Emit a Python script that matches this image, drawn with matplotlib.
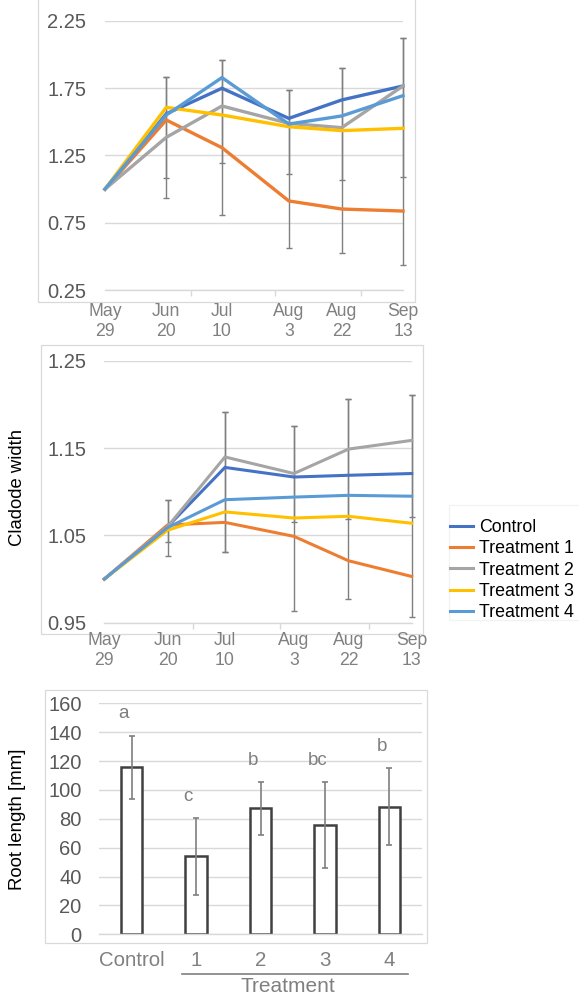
import numpy as np
import matplotlib
matplotlib.use('Agg')
import matplotlib.pyplot as plt
import matplotlib.dates as mdates
from matplotlib.patches import Rectangle
from matplotlib.transforms import blended_transform_factory

plt.rcParams['font.family'] = ['Liberation Sans', 'DejaVu Sans']

# sampling dates and the month ticks of the date axis
dates = np.array(['2019-05-29', '2019-06-20', '2019-07-10',
                  '2019-08-03', '2019-08-22', '2019-09-13'], dtype='datetime64[D]')
date_labels = ['May\n29', 'Jun\n20', 'Jul\n10', 'Aug\n3', 'Aug\n22', 'Sep\n13']
month_ticks = np.array(['2019-05-29', '2019-06-29', '2019-07-29', '2019-08-29'],
                       dtype='datetime64[D]')

series_names = ['Control', 'Treatment 1', 'Treatment 2', 'Treatment 3', 'Treatment 4']
series_colors = ['#4472C4', '#ED7D31', '#A5A5A5', '#FFC000', '#5B9BD5']

# relative cladode length
length_control = [1.0, 1.560, 1.750, 1.526, 1.663, 1.767]
length_t1 = [1.0, 1.514, 1.308, 0.912, 0.852, 0.837]
length_t2 = [1.0, 1.385, 1.618, 1.489, 1.457, 1.767]
length_t3 = [1.0, 1.608, 1.551, 1.464, 1.435, 1.452]
length_t4 = [1.0, 1.551, 1.829, 1.484, 1.544, 1.695]
# error bars (Jun 20 .. Sep 13)
length_err_hi = [1.831, 1.960, 1.737, 1.903, 2.121]
length_err_lo_a = [0.932, 0.808, 0.560, 0.523, 0.436]
length_err_lo_b = [1.085, 1.192, 1.110, 1.068, 1.088]

# relative cladode width
width_control = [1.0, 1.060, 1.128, 1.117, 1.119, 1.121]
width_t1 = [1.0, 1.062, 1.065, 1.049, 1.021, 1.003]
width_t2 = [1.0, 1.060, 1.140, 1.121, 1.149, 1.159]
width_t3 = [1.0, 1.056, 1.077, 1.070, 1.072, 1.064]
width_t4 = [1.0, 1.059, 1.091, 1.094, 1.096, 1.095]
width_err_hi = [1.091, 1.192, 1.176, 1.206, 1.211]
width_err_lo_a = [1.026, 1.031, 0.963, 0.977, 0.956]
width_err_lo_b = [1.043, 1.031, 1.066, 1.069, 1.071]

# root length
root_groups = ['Control', '1', '2', '3', '4']
root_mean = [115.8, 54.1, 87.3, 75.5, 88.4]
root_err = [21.8, 26.6, 18.4, 29.7, 26.8]
root_letters = ['a', 'c', 'b', 'bc', 'b']

W, H = 579, 996
GRID = '#D9D9D9'
TICK_Y = '#595959'
TICK_X = '#808080'
ERR = '#7F7F7F'

fig = plt.figure(figsize=(W / 100, H / 100), dpi=100)


def px_axes(x0, y0, x1, y1):
    ax = fig.add_axes([x0 / W, 1 - y1 / H, (x1 - x0) / W, (y1 - y0) / H])
    ax.set_facecolor('none')
    return ax


def px_frame(x0, y0, x1, y1, color='#D9D9D9'):
    r = Rectangle((x0 / W, 1 - y1 / H), (x1 - x0) / W, (y1 - y0) / H,
                  transform=fig.transFigure, fill=False, edgecolor=color,
                  linewidth=0.9, zorder=-5)
    fig.add_artist(r)


def style_axes(ax):
    for s in ['top', 'right', 'left']:
        ax.spines[s].set_visible(False)
    ax.spines['bottom'].set_color(GRID)
    ax.spines['bottom'].set_linewidth(1.0)
    ax.yaxis.grid(True, color=GRID, linewidth=1.0)
    ax.set_axisbelow(True)


def unclip(container):
    for child in container.get_children():
        child.set_clip_on(False)


def line_panel(ax, series, err_lo_a, err_lo_b, err_hi, ylim, yticks, fmt,
               lw, xpad, ypad):
    x = mdates.date2num(dates)
    style_axes(ax)
    for lo in (err_lo_a, err_lo_b):
        lo = np.array(lo)
        hi = np.array(err_hi)
        eb = ax.errorbar(x[1:], (lo + hi) / 2, yerr=(hi - lo) / 2, fmt='none',
                         ecolor=ERR, elinewidth=1.0, capsize=2.3, capthick=1.0,
                         zorder=2)
        unclip(eb)
    lines = []
    for vals, name, col in zip(series, series_names, series_colors):
        ln, = ax.plot(x, vals, color=col, linewidth=lw, label=name,
                      solid_joinstyle='miter', clip_on=False, zorder=3)
        lines.append(ln)
    ax.set_xlim(x[0], x[-1])
    ax.set_ylim(*ylim)
    ax.set_yticks(yticks)
    ax.set_yticklabels([fmt.format(v) for v in yticks])
    ax.set_xticks(x)
    ax.set_xticklabels(date_labels)
    ax.set_xticks(mdates.date2num(month_ticks), minor=True)
    ax.tick_params(axis='y', length=0, pad=ypad, labelsize=14.5,
                   labelcolor=TICK_Y)
    ax.tick_params(axis='x', which='major', length=0, pad=xpad,
                   labelsize=12.7, labelcolor=TICK_X)
    ax.tick_params(axis='x', which='minor', length=4, width=1.0, color=GRID,
                   direction='out')
    return lines


# chart area borders
px_frame(37.5, -3, 415, 302)
px_frame(40.7, 344.7, 423.3, 634)
px_frame(45, 690, 426.7, 942.7)
px_frame(449, 505, 582, 620, color='#F2F2F2')

# cladode length
ax1 = px_axes(105, 21, 403, 290)
line_panel(ax1, [length_control, length_t1, length_t2, length_t3, length_t4],
           length_err_lo_a, length_err_lo_b, length_err_hi,
           (0.25, 2.25), [0.25, 0.75, 1.25, 1.75, 2.25], '{:.2f}',
           2.4, 9.5, 13.5)

# cladode width
ax2 = px_axes(104.3, 361, 411.7, 622.7)
lines = line_panel(ax2, [width_control, width_t1, width_t2, width_t3, width_t4],
                   width_err_lo_a, width_err_lo_b, width_err_hi,
                   (0.95, 1.25), [0.95, 1.05, 1.15, 1.25], '{:.2f}',
                   2.2, 6.8, 12.7)
fig.text(18 / W, 1 - 488 / H, 'Cladode width', rotation=90, ha='center',
         va='center', fontsize=13.3, color='black')

fig.legend(lines, series_names, loc='upper left',
           bbox_to_anchor=(450 / W, 1 - 519 / H), frameon=False,
           borderpad=0, borderaxespad=0, handlelength=1.3,
           handletextpad=0.35, labelspacing=0.24, fontsize=12.8)

# root length bars
ax3 = px_axes(99.3, 703.3, 421.7, 934.3)
style_axes(ax3)
xb = np.arange(len(root_groups))
ax3.bar(xb, root_mean, width=0.33, color='white', edgecolor='#404040',
        linewidth=1.8, zorder=2)
ax3.errorbar(xb, root_mean, yerr=root_err, fmt='none', ecolor=ERR,
             elinewidth=1.2, capsize=2.5, capthick=1.2, zorder=3)
for i, (m, e, lt) in enumerate(zip(root_mean, root_err, root_letters)):
    ax3.text(i - 0.12, m + e + 15, lt, ha='center', va='center',
             fontsize=13.5, color=ERR)
ax3.spines['bottom'].set_zorder(4)
ax3.set_xlim(-0.5, len(root_groups) - 0.5)
ax3.set_ylim(0, 160)
ax3.set_yticks(np.arange(0, 161, 20))
ax3.set_xticks(xb)
ax3.set_xticklabels(root_groups)
ax3.tick_params(axis='y', length=0, pad=12.7, labelsize=14.5, labelcolor=TICK_Y)
ax3.tick_params(axis='x', length=0, pad=12, labelsize=14.7, labelcolor=TICK_X)

tr = blended_transform_factory(ax3.transData, ax3.transAxes)
ax3.plot([0.79, 4.29], [-0.172, -0.172], transform=tr, color=ERR,
         linewidth=1.2, clip_on=False)
ax3.text(2.42, -0.224, 'Treatment', transform=tr, ha='center', va='center',
         fontsize=15, color=TICK_X)
fig.text(18 / W, 1 - 819 / H, 'Root length [mm]', rotation=90, ha='center',
         va='center', fontsize=13.4, color='black')

fig.savefig('out.png', dpi=100)
